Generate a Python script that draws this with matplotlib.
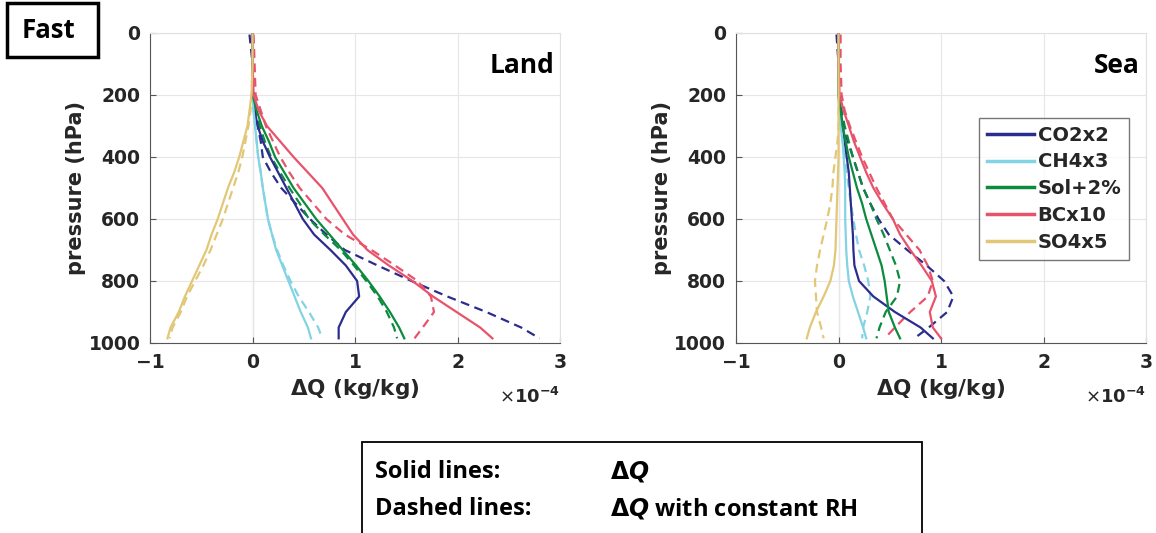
import numpy as np
import matplotlib.pyplot as plt
from matplotlib.patches import Rectangle

plt.rcParams['font.family'] = ['DejaVu Sans']
plt.rcParams['mathtext.fontset'] = 'dejavusans'

# pressure levels (hPa) shared by every profile
levels = [5, 100, 200, 250, 300, 350, 400, 450, 500, 550, 600, 650, 700, 750, 800, 850, 900, 950, 985]

names = ["CO2x2", "CH4x3", "Sol+2%", "BCx10", "SO4x5"]
colors = ["#2b2d8e", "#82d3e3", "#0c8a3e", "#e8536b", "#e2c777"]

# Land, dQ in 1e-4 kg/kg (solid) and with constant RH (dashed)
land_co2 = [0, 0, 0, 0.02, 0.05, 0.10, 0.17, 0.25, 0.33, 0.41, 0.49, 0.60, 0.76, 0.91, 1.02, 1.04, 0.91, 0.84, 0.84]
land_co2_rh = [-0.03, 0, 0.01, 0.03, 0.05, 0.08, 0.10, 0.18, 0.28, 0.42, 0.56, 0.72, 0.90, 1.22, 1.55, 1.90, 2.28, 2.62, 2.80]
land_ch4 = [0, 0, 0, 0.01, 0.025, 0.04, 0.055, 0.08, 0.10, 0.125, 0.15, 0.19, 0.23, 0.29, 0.35, 0.41, 0.47, 0.54, 0.57]
land_ch4_rh = [0, 0, 0, 0.01, 0.025, 0.04, 0.055, 0.08, 0.10, 0.125, 0.15, 0.19, 0.24, 0.30, 0.37, 0.45, 0.55, 0.64, 0.68]
land_sol = [0, 0, 0, 0.04, 0.09, 0.16, 0.22, 0.31, 0.40, 0.51, 0.62, 0.75, 0.88, 1.01, 1.13, 1.24, 1.34, 1.43, 1.48]
land_sol_rh = [0, 0, 0, 0.03, 0.07, 0.12, 0.18, 0.27, 0.36, 0.46, 0.55, 0.70, 0.86, 0.99, 1.11, 1.22, 1.31, 1.38, 1.41]
land_bc = [0, 0, 0.01, 0.06, 0.14, 0.27, 0.40, 0.54, 0.68, 0.78, 0.88, 0.98, 1.12, 1.33, 1.56, 1.76, 1.99, 2.22, 2.34]
land_bc_rh = [0.01, 0.02, 0.03, 0.08, 0.13, 0.20, 0.27, 0.36, 0.46, 0.59, 0.72, 0.90, 1.16, 1.39, 1.61, 1.74, 1.77, 1.66, 1.58]
land_so4 = [0, 0, -0.01, -0.03, -0.05, -0.09, -0.13, -0.18, -0.24, -0.29, -0.34, -0.40, -0.45, -0.52, -0.59, -0.66, -0.72, -0.80, -0.83]
land_so4_rh = [0, 0, -0.01, -0.02, -0.04, -0.07, -0.10, -0.14, -0.19, -0.24, -0.29, -0.35, -0.41, -0.48, -0.56, -0.64, -0.70, -0.78, -0.81]

# Sea
sea_co2 = [0, 0, 0, 0.02, 0.04, 0.06, 0.08, 0.10, 0.11, 0.12, 0.13, 0.14, 0.145, 0.155, 0.20, 0.34, 0.55, 0.80, 0.92]
sea_co2_rh = [-0.02, 0, 0, 0.02, 0.04, 0.09, 0.14, 0.19, 0.24, 0.31, 0.39, 0.49, 0.67, 0.86, 1.03, 1.12, 1.06, 0.88, 0.74]
sea_ch4 = [0, 0, 0, 0.01, 0.02, 0.04, 0.05, 0.06, 0.065, 0.065, 0.065, 0.07, 0.075, 0.085, 0.10, 0.14, 0.19, 0.24, 0.27]
sea_ch4_rh = [0, 0, 0, 0.01, 0.02, 0.04, 0.06, 0.08, 0.10, 0.12, 0.145, 0.17, 0.20, 0.25, 0.29, 0.31, 0.28, 0.24, 0.23]
sea_sol = [0, 0, 0, 0.02, 0.04, 0.07, 0.10, 0.14, 0.18, 0.23, 0.27, 0.32, 0.37, 0.42, 0.45, 0.47, 0.49, 0.55, 0.60]
sea_sol_rh = [0, 0, 0, 0.03, 0.06, 0.10, 0.14, 0.19, 0.24, 0.31, 0.37, 0.44, 0.50, 0.56, 0.60, 0.57, 0.46, 0.40, 0.37]
sea_bc = [0, 0, 0.01, 0.05, 0.10, 0.15, 0.21, 0.27, 0.34, 0.43, 0.53, 0.60, 0.70, 0.81, 0.91, 0.95, 0.89, 0.92, 1.00]
sea_bc_rh = [0.02, 0.02, 0.03, 0.06, 0.11, 0.17, 0.23, 0.30, 0.37, 0.45, 0.53, 0.66, 0.79, 0.87, 0.92, 0.87, 0.70, 0.55, 0.45]
sea_so4 = [0, 0, 0, 0, 0, 0, 0, -0.005, -0.01, -0.015, -0.02, -0.025, -0.03, -0.045, -0.08, -0.145, -0.22, -0.28, -0.31]
sea_so4_rh = [0, 0, 0, 0, 0, -0.01, -0.03, -0.05, -0.06, -0.08, -0.11, -0.145, -0.18, -0.21, -0.23, -0.22, -0.21, -0.17, -0.145]

land_solid = [land_co2, land_ch4, land_sol, land_bc, land_so4]
land_dash = [land_co2_rh, land_ch4_rh, land_sol_rh, land_bc_rh, land_so4_rh]
sea_solid = [sea_co2, sea_ch4, sea_sol, sea_bc, sea_so4]
sea_dash = [sea_co2_rh, sea_ch4_rh, sea_sol_rh, sea_bc_rh, sea_so4_rh]

TXT = "#262626"
OPEN = ["Open Sans", "DejaVu Sans"]


def draw_panel(ax, solid, dashed, title):
    ax.grid(True, color="#e6e6e6", lw=0.8)
    ax.axvline(0, color="#888888", lw=0.8, zorder=1)
    for i in range(len(names)):
        ax.plot(dashed[i], levels, color=colors[i], lw=1.6, dashes=(4, 2.5), zorder=2)
    for i in range(len(names)):
        ax.plot(solid[i], levels, color=colors[i], lw=1.6, label=names[i], zorder=3)
    ax.set_xlim(-1, 3)
    ax.set_ylim(1000, 0)
    ax.set_xticks([-1, 0, 1, 2, 3])
    ax.set_yticks([0, 200, 400, 600, 800, 1000])
    ax.tick_params(direction="in", length=4, colors="#555555", labelcolor=TXT,
                   labelsize=13.5, pad=7)
    for lab in ax.get_xticklabels() + ax.get_yticklabels():
        lab.set_fontweight("bold")
    for s in ["left", "bottom"]:
        ax.spines[s].set_color("#555555")
    for s in ["top", "right"]:
        ax.spines[s].set_color("#e0e0e0")
    ax.set_xlabel(r"$\mathbf{\Delta}$Q (kg/kg)", fontsize=15.5, fontweight="bold", color=TXT, labelpad=4)
    ax.set_ylabel("pressure (hPa)", fontsize=15, fontweight="bold", color=TXT, labelpad=2)
    ax.text(0.985, 0.895, title, transform=ax.transAxes, ha="right", va="center",
            fontsize=19, fontweight="bold", family=OPEN)
    ax.text(1.0, -0.175, r"$\times\mathbf{10^{-4}}$", transform=ax.transAxes, ha="right", va="center",
            fontsize=13, color=TXT)


fig = plt.figure(figsize=(11.56, 5.33), dpi=100)
ax1 = fig.add_axes([0.1298, 0.3565, 0.3547, 0.5816])
ax2 = fig.add_axes([0.6367, 0.3565, 0.3547, 0.5816])
draw_panel(ax1, land_solid, land_dash, "Land")
draw_panel(ax2, sea_solid, sea_dash, "Sea")

leg = ax2.legend(loc="upper left", bbox_to_anchor=(0.593, 0.726), fontsize=14, frameon=True,
                 fancybox=False, handlelength=2.4, handletextpad=0.2, borderpad=0.4,
                 labelspacing=0.4, borderaxespad=0)
leg.get_frame().set_edgecolor("#555555")
leg.get_frame().set_linewidth(1.0)
for t in leg.get_texts():
    t.set_fontweight("bold")
    t.set_color(TXT)
for h in leg.get_lines():
    h.set_linewidth(2.5)

# "Fast" label box
fig.patches.append(Rectangle((7 / 1156, 1 - 57 / 533), 91 / 1156, 54 / 533, transform=fig.transFigure,
                             fill=False, lw=2.5, edgecolor="black"))
fig.text(48 / 1156, 1 - 30 / 533, "Fast", ha="center", va="center", fontsize=18.5,
         fontweight="bold", family=OPEN)

# explanation box at the bottom
fig.patches.append(Rectangle((362 / 1156, -0.01), 560 / 1156, 1 - 442 / 533 + 0.01,
                             transform=fig.transFigure, fill=False, lw=1.3, edgecolor="black"))
fs = 17
fig.text(375 / 1156, 1 - 472 / 533, "Solid lines:", fontsize=fs, fontweight="bold", va="center", family=OPEN)
fig.text(375 / 1156, 1 - 509 / 533, "Dashed lines:", fontsize=fs, fontweight="bold", va="center", family=OPEN)
fig.text(610 / 1156, 1 - 472 / 533, r"$\mathbf{\Delta}\boldsymbol{Q}$", fontsize=fs, va="center")
fig.text(610 / 1156, 1 - 509 / 533, r"$\mathbf{\Delta}\boldsymbol{Q}$ with constant RH", fontsize=fs,
         fontweight="bold", va="center", family=OPEN)

fig.savefig("out.png", dpi=100)
